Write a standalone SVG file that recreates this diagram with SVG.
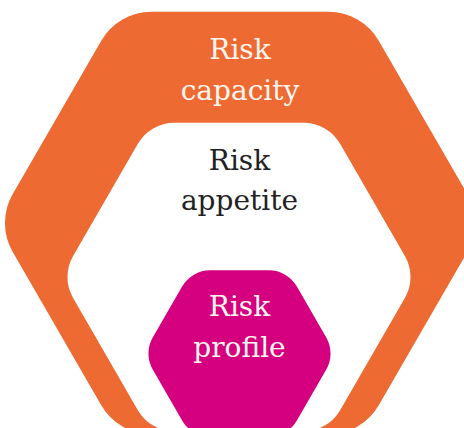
<svg xmlns="http://www.w3.org/2000/svg" width="464" height="428" viewBox="0 0 464 428">
<style>
.lbl{font-family:"DejaVu Serif","Liberation Serif",serif;font-size:28px;text-anchor:middle}
.light{fill:#FFF6F0}
.dark{fill:#222222}
</style>
<rect width="464" height="428" fill="#FFFFFF"/>
<g id="risk-capacity">
<path fill="#EE6A33" d="M151.49,11.69 L328.51,11.69 A58,58 0 0 1 378.74,40.69 L467.26,194 A58,58 0 0 1 467.26,252 L378.74,405.31 A58,58 0 0 1 328.51,434.31 L151.49,434.31 A58,58 0 0 1 101.26,405.31 L12.745,252 A58,58 0 0 1 12.745,194 L101.26,40.69 A58,58 0 0 1 151.49,11.69 Z"/>
<text class="lbl light" x="240" y="58.5">Risk</text>
<text class="lbl light" x="240" y="99.5">capacity</text>
</g>
<g id="risk-appetite">
<path fill="#FFFFFF" d="M174.25,122.85 L303.75,122.85 A42,42 0 0 1 340.12,143.85 L404.88,256 A42,42 0 0 1 404.88,298 L340.12,410.15 A42,42 0 0 1 303.75,431.15 L174.25,431.15 A42,42 0 0 1 137.88,410.15 L73.12,298 A42,42 0 0 1 73.12,256 L137.88,143.85 A42,42 0 0 1 174.25,122.85 Z"/>
<text class="lbl dark" x="239.5" y="170">Risk</text>
<text class="lbl dark" x="239.5" y="210">appetite</text>
</g>
<g id="risk-profile">
<path fill="#D5007F" d="M209.98,270.36 L269.02,270.36 A32,32 0 0 1 296.74,286.36 L326.26,337.5 A32,32 0 0 1 326.26,369.5 L296.74,420.64 A32,32 0 0 1 269.02,436.64 L209.98,436.64 A32,32 0 0 1 182.26,420.64 L152.74,369.5 A32,32 0 0 1 152.74,337.5 L182.26,286.36 A32,32 0 0 1 209.98,270.36 Z"/>
<text class="lbl light" x="239.5" y="316">Risk</text>
<text class="lbl light" x="239.5" y="357">profile</text>
</g>
<g id="connectors"></g>
</svg>
